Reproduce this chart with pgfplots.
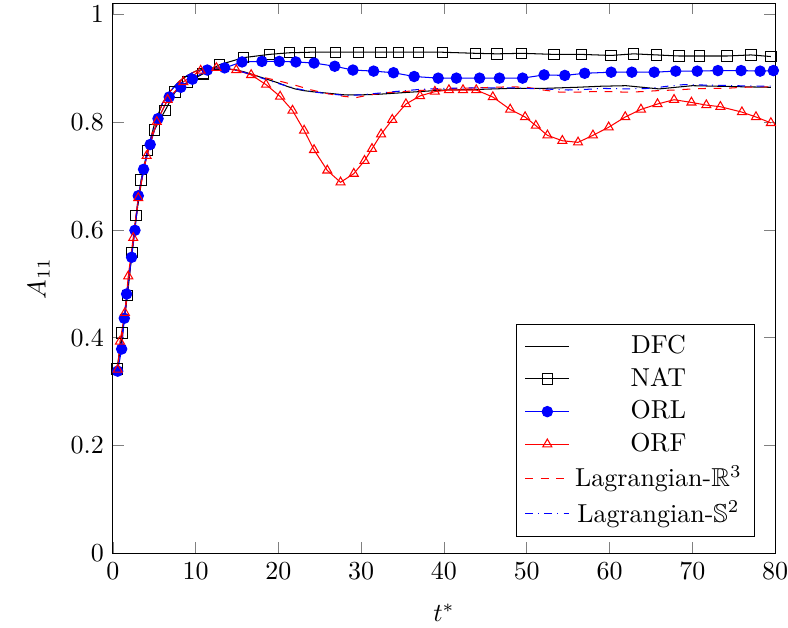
\documentclass[border=0pt]{standalone}
\usepackage{amssymb}
\usepackage{pgfplots}
\pgfplotsset{compat=1.18}
\begin{document}
\begin{tikzpicture}
\begin{axis}[
  scale only axis,
  width=255pt, height=212pt,
  xmin=0, xmax=80, ymin=0, ymax=1.02,
  xtick={0,10,...,80},
  ytick={0,0.2,0.4,0.6,0.8,1},
  yticklabels={0,0.2,0.4,0.6,0.8,1},
  xlabel={$t^{*}$}, ylabel={$A_{11}$},
  every axis y label/.style={at={(axis description cs:-0.112,0.5)}, rotate=90, anchor=center},
  every axis x label/.style={at={(axis description cs:0.5,-0.108)}, anchor=center},
  legend style={at={(0.97,0.03)}, anchor=south east, legend cell align=center},
  legend cell align=center,
]
% DFC
\addplot[black, no marks] coordinates {
(0.5,0.340) (1,0.39) (1.5,0.45) (2,0.52) (2.5,0.585) (3,0.645) (3.5,0.695) (4,0.735)
(5,0.795) (6,0.835) (7,0.858) (8,0.875) (9,0.886) (10,0.894) (11,0.898) (12,0.900)
(13,0.900) (14,0.898) (15,0.896) (16,0.892) (17,0.887) (18,0.882) (19,0.877) (20,0.872)
(21,0.866) (22,0.861) (23,0.858) (24,0.856) (26,0.853) (28,0.850) (30,0.850) (32,0.851)
(34,0.853) (36,0.855) (38,0.857) (40,0.859) (44,0.860) (48,0.862) (52,0.862) (56,0.864)
(59,0.866) (62,0.867) (64,0.864) (66,0.861) (68,0.864) (70,0.867) (73,0.866) (76,0.865) (79.5,0.864)
};
% NAT
\addplot[black, mark=square] coordinates {
(0.5,0.342) (1.1,0.409) (1.75,0.478) (2.3,0.558) (2.8,0.626) (3.4,0.692) (4.2,0.747)
(5.0,0.785) (6.3,0.821) (7.5,0.855) (9.0,0.874) (10.9,0.889) (12.9,0.906) (15.8,0.919)
(18.9,0.925) (21.3,0.928) (23.8,0.929) (26.9,0.929) (29.7,0.929) (32.4,0.929) (34.5,0.929)
(36.9,0.929) (39.8,0.929) (43.8,0.927) (46.4,0.926) (49.4,0.927) (53.3,0.925) (56.6,0.925)
(60.2,0.923) (62.9,0.926) (65.7,0.924) (68.4,0.922) (70.9,0.922) (74.2,0.922) (77.1,0.924) (79.5,0.921)
};
% ORL
\addplot[blue, mark=*] coordinates {
(0.57,0.338) (1.05,0.379) (1.37,0.436) (1.65,0.481) (2.26,0.549) (2.66,0.599) (3.06,0.663)
(3.7,0.712) (4.5,0.758) (5.45,0.806) (6.8,0.846) (8.2,0.864) (9.6,0.879) (11.4,0.896)
(13.5,0.900) (15.6,0.911) (18.0,0.912) (20.1,0.912) (22.1,0.911) (24.3,0.909) (26.8,0.903)
(29.0,0.896) (31.5,0.894) (33.9,0.891) (36.4,0.884) (39.3,0.881) (41.5,0.881) (44.3,0.881)
(46.7,0.881) (49.5,0.881) (52.1,0.887) (54.6,0.886) (57.0,0.890) (60.2,0.892) (62.7,0.892)
(65.4,0.892) (68.0,0.894) (70.6,0.894) (73.1,0.895) (75.9,0.895) (78.2,0.894) (79.8,0.895)
};
% ORF
\addplot[red, mark=triangle] coordinates {
(0.57,0.341) (0.85,0.393) (1.45,0.446) (1.85,0.514) (2.45,0.585) (3.06,0.659) (4.07,0.737)
(5.3,0.800) (6.6,0.841) (8.5,0.874) (10.6,0.895) (12.5,0.900) (14.9,0.896) (16.7,0.887)
(18.5,0.869) (20.2,0.847) (21.7,0.821) (23.1,0.784) (24.3,0.748) (25.9,0.710) (27.5,0.688)
(29.1,0.704) (30.4,0.728) (31.3,0.750) (32.4,0.777) (33.75,0.804) (35.4,0.833) (37.1,0.848)
(38.9,0.856) (40.6,0.859) (42.3,0.859) (43.9,0.859) (45.9,0.846) (48.0,0.823) (49.8,0.809)
(51.1,0.793) (52.5,0.775) (54.3,0.765) (56.2,0.762) (58.0,0.775) (59.9,0.790) (61.9,0.809)
(63.8,0.823) (65.8,0.833) (67.8,0.841) (69.9,0.836) (71.7,0.831) (73.4,0.828) (76.0,0.818)
(77.7,0.809) (79.5,0.798)
};
% Lagrangian R3
\addplot[red, dashed, no marks] coordinates {
(0.5,0.340) (1,0.39) (1.5,0.45) (2,0.52) (2.5,0.585) (3,0.645) (3.5,0.695) (4,0.735)
(5,0.795) (6,0.835) (7,0.858) (8,0.875) (9,0.886) (10,0.894) (11,0.898) (12,0.900)
(13,0.900) (14,0.898) (15,0.895) (16,0.891) (17,0.887) (18,0.883) (20,0.876) (22,0.868)
(24,0.859) (26,0.852) (28,0.847) (29.4,0.845) (31,0.850) (33,0.854) (36,0.857) (40,0.861)
(44,0.863) (48,0.865) (50,0.864) (52,0.859) (54,0.855) (56,0.855) (58,0.856) (60,0.856)
(62,0.855) (64,0.856) (66,0.858) (68,0.859) (70,0.861) (72,0.862) (74,0.862) (76,0.864) (79.5,0.865)
};
% Lagrangian S2
\addplot[blue, dash dot, no marks] coordinates {
(0.5,0.340) (1,0.39) (1.5,0.45) (2,0.52) (2.5,0.585) (3,0.645) (3.5,0.695) (4,0.735)
(5,0.795) (6,0.835) (7,0.858) (8,0.875) (9,0.886) (10,0.894) (11,0.898) (12,0.900)
(13,0.900) (14,0.898) (15,0.895) (16,0.891) (17,0.886) (18,0.881) (20,0.871) (22,0.862)
(24,0.856) (26,0.852) (28,0.849) (30,0.850) (32,0.853) (34,0.856) (37,0.860) (40,0.862)
(44,0.863) (48,0.863) (52,0.861) (55,0.859) (57,0.860) (59,0.862) (62,0.861) (65,0.862)
(67,0.866) (69,0.869) (72,0.868) (75,0.867) (79.5,0.866)
};
\legend{DFC, NAT, ORL, ORF, Lagrangian-$\mathbb{R}^3$, Lagrangian-$\mathbb{S}^2$}
\end{axis}
\pgfresetboundingbox
\path ([shift={(-43.5pt,-28.5pt)}]current axis.south west) rectangle ([shift={(5pt,1.2pt)}]current axis.north east);
\end{tikzpicture}
\end{document}
